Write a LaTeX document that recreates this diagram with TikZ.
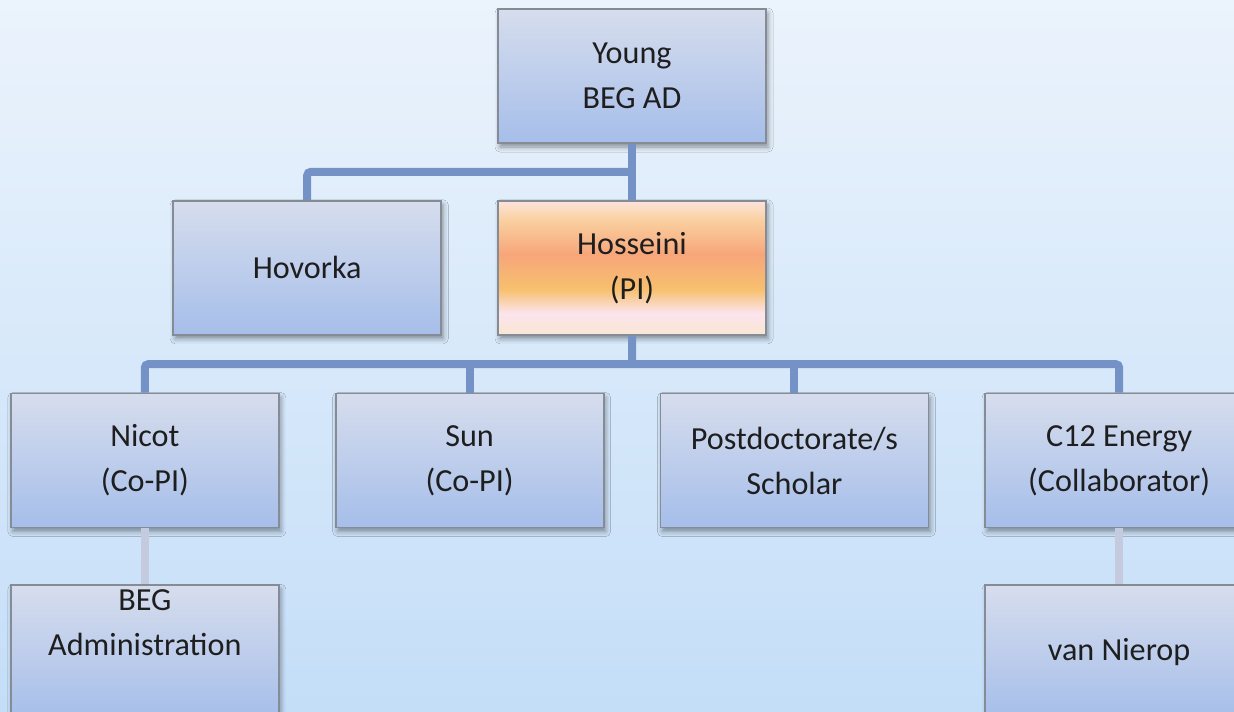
\documentclass[tikz,border=0pt]{standalone}
\usepackage{fontspec}
\setmainfont{Carlito}
\usepackage{xcolor}
\usepackage{tikz}
\usetikzlibrary{positioning,calc,shadows.blur}

\definecolor{bgtop}{HTML}{EBF3FC}
\definecolor{bgbot}{HTML}{C4DEF8}
\definecolor{boxtop}{HTML}{D6DDED}
\definecolor{boxbot}{HTML}{A6BEEA}
\definecolor{boxline}{HTML}{858C96}
\definecolor{linkcol}{HTML}{7592C6}
\definecolor{sublinkcol}{HTML}{C4CBDE}
\definecolor{txt}{HTML}{1E1E1E}
\definecolor{pia}{HTML}{F9E6D2}
\definecolor{pib}{HTML}{FCE4EE}
\definecolor{pic}{HTML}{F7C06E}
\definecolor{pid}{HTML}{F7A67A}
\definecolor{pie}{HTML}{FAD0A0}
\definecolor{pif}{HTML}{FCE4DC}
\pgfdeclareverticalshading{pishade}{100bp}{color(0bp)=(pia); color(25bp)=(pia);
 color(33bp)=(pib); color(42bp)=(pic); color(55bp)=(pid); color(68bp)=(pie);
 color(75bp)=(pif); color(100bp)=(pif)}

\begin{document}
\begin{tikzpicture}[node distance=1.12cm and 1.1cm,
 box/.style={draw=boxline,line width=1pt,top color=boxtop,bottom color=boxbot,
  minimum width=5.36cm,minimum height=2.68cm,inner sep=0pt,align=center,
  text=txt,font=\fontsize{18.3}{25.6}\selectfont,
  blur shadow={shadow xshift=0.04cm,shadow yshift=-0.08cm,shadow blur radius=0.1cm,shadow opacity=40}},
 pibox/.style={box,shading=pishade},
 link/.style={draw=linkcol,line width=0.16cm,rounded corners=2pt},
 sublink/.style={draw=sublinkcol,line width=0.16cm}]
 \shade[top color=bgtop,bottom color=bgbot] (0,0) rectangle (24.68,-14.22);
 \useasboundingbox (0,0) rectangle (24.68,-14.22);

 \node[box] (Young) at (12.64,-1.52) {Young\\BEG AD};
 \node[pibox,below=of Young] (Hosseini) {Hosseini\\(PI)};
 \node[box,left=of Hosseini] (Hovorka) {Hovorka};
 \node[box,below left=1.14cm and 0.55cm of Hosseini.south] (Sun) {Sun\\(Co-PI)};
 \node[box,left=of Sun] (Nicot) {Nicot\\(Co-PI)};
 \node[box,right=of Sun] (Postdoc) {Postdoctorate/s\\Scholar};
 \node[box,right=of Postdoc] (C12) {C12 Energy\\(Collaborator)};
 \node[box,below=of Nicot] (BEGadmin) {BEG\\Administration\\\strut};
 \node[box,below=of C12] (Nierop) {van Nierop};

 \coordinate (top fork) at ($(Young.south)!.5!(Hosseini.north)$);
 \coordinate (pi fork) at ($(Hosseini.south)!.5!(Hosseini.south |- Sun.north)$);
 \draw[link] (Young.south) -- (Hosseini.north);
 \draw[link] (top fork) -| (Hovorka.north);
 \draw[link] (Hosseini.south) -- (pi fork);
 \draw[link] (Nicot.north) |- (pi fork) -| (C12.north);
 \draw[link] (Sun.north) -- (Sun.north |- pi fork);
 \draw[link] (Postdoc.north) -- (Postdoc.north |- pi fork);
 \draw[sublink] (Nicot.south) -- (BEGadmin.north);
 \draw[sublink] (C12.south) -- (Nierop.north);
\end{tikzpicture}
\end{document}
